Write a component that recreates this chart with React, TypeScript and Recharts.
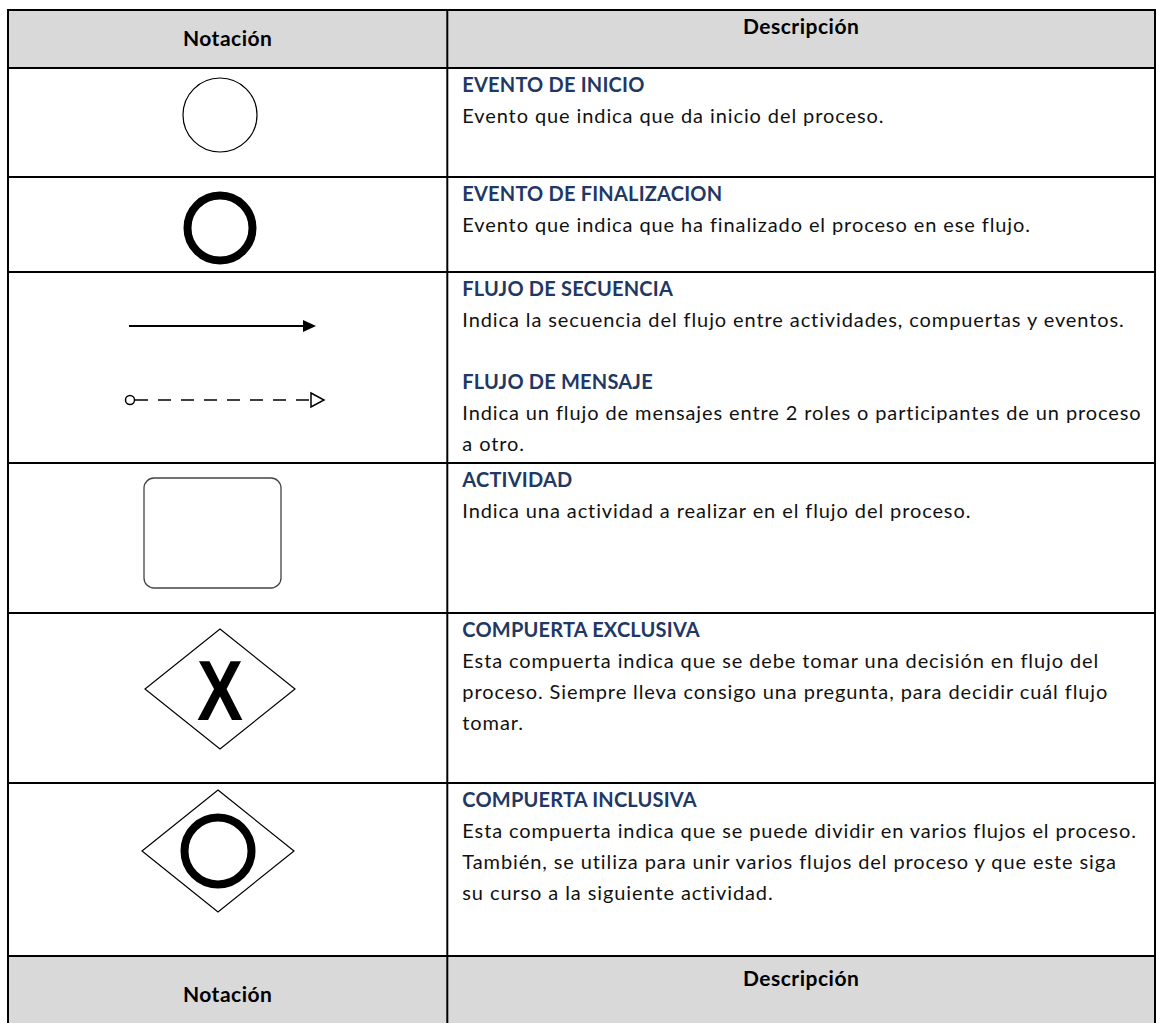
import { BarChart, Bar, XAxis, YAxis } from "recharts";

const headerLabels = ["Notación", "Descripción"];

const notationKinds = ["inicio", "fin", "flujos", "actividad", "exclusiva", "inclusiva"];

const entryTitles = [
  ["EVENTO DE INICIO"],
  ["EVENTO DE FINALIZACION"],
  ["FLUJO DE SECUENCIA", "FLUJO DE MENSAJE"],
  ["ACTIVIDAD"],
  ["COMPUERTA EXCLUSIVA"],
  ["COMPUERTA INCLUSIVA"],
];

const entryLines = [
  [["Evento que indica que da inicio del proceso."]],
  [["Evento que indica que ha finalizado el proceso en ese flujo."]],
  [
    ["Indica la secuencia del flujo entre actividades, compuertas y eventos."],
    ["Indica un flujo de mensajes entre 2 roles o participantes de un proceso", "a otro."],
  ],
  [["Indica una actividad a realizar en el flujo del proceso."]],
  [
    [
      "Esta compuerta indica que se debe tomar una decisión en flujo del",
      "proceso. Siempre lleva consigo una pregunta, para decidir cuál flujo",
      "tomar.",
    ],
  ],
  [
    [
      "Esta compuerta indica que se puede dividir en varios flujos el proceso.",
      "También, se utiliza para unir varios flujos del proceso y que este siga",
      "su curso a la siguiente actividad.",
    ],
  ],
];

// row heights: header, six notation rows, repeated header (cut off by the page)
const rowHeights = [58, 109, 95, 191, 150, 170, 173, 78];

const rowKinds = ["header", ...notationKinds, "header"];
const total = rowHeights.reduce((a, b) => a + b, 0);
const tableRow = Object.fromEntries(rowHeights.map((h, i) => [`r${i}`, h]));
const data = [{ name: "tabla", ...tableRow }];

const FONT = "Lato, 'Open Sans', sans-serif";
const NAVY = "#1F3864";
const notationShare = 0.383;

function Notation({ kind, gx, top, left }: { kind: string; gx: number; top: number; left: number }) {
  if (kind === "inicio") {
    return <circle cx={gx} cy={top + 47} r={37} fill="#fff" stroke="#000" strokeWidth={1.2} />;
  }
  if (kind === "fin") {
    return <circle cx={gx} cy={top + 51} r={32.5} fill="#fff" stroke="#000" strokeWidth={8} />;
  }
  if (kind === "flujos") {
    return (
      <g>
        <line x1={gx - 91} x2={gx + 85} y1={top + 54} y2={top + 54} stroke="#000" strokeWidth={2} />
        <polygon points={`${gx + 83},${top + 48} ${gx + 96},${top + 54} ${gx + 83},${top + 60}`} fill="#000" />
        <line x1={gx - 85} x2={gx + 91} y1={top + 128} y2={top + 128} stroke="#000" strokeWidth={1.5} strokeDasharray="13 10" />
        <circle cx={gx - 90} cy={top + 128} r={4.5} fill="#fff" stroke="#000" strokeWidth={1.5} />
        <polygon
          points={`${gx + 91},${top + 121} ${gx + 104},${top + 128} ${gx + 91},${top + 135}`}
          fill="#fff"
          stroke="#000"
          strokeWidth={1.5}
        />
      </g>
    );
  }
  if (kind === "actividad") {
    return <rect x={left + 136} y={top + 15} width={137} height={110} rx={10} fill="#fff" stroke="#444" strokeWidth={1.3} />;
  }
  if (kind === "exclusiva") {
    return (
      <g>
        <polygon
          points={`${gx},${top + 16} ${gx + 75},${top + 76} ${gx},${top + 136} ${gx - 75},${top + 76}`}
          fill="#fff"
          stroke="#000"
          strokeWidth={1.2}
        />
        <text
          x={gx}
          y={top + 107}
          textAnchor="middle"
          fontFamily="'Liberation Sans', Arial, sans-serif"
          fontWeight={700}
          fontSize={86}
          textLength={46}
          lengthAdjust="spacingAndGlyphs"
        >
          X
        </text>
      </g>
    );
  }
  // inclusiva
  return (
    <g>
      <polygon
        points={`${gx - 2},${top + 7} ${gx + 74},${top + 68} ${gx - 2},${top + 129} ${gx - 78},${top + 68}`}
        fill="#fff"
        stroke="#000"
        strokeWidth={1.2}
      />
      <circle cx={gx - 2} cy={top + 68} r={33.5} fill="none" stroke="#000" strokeWidth={8} />
    </g>
  );
}

function TableRow(props: any) {
  const { x, y, width, height, row } = props;
  const top = Math.min(y, y + height);
  const h = Math.abs(height);
  const right = x + width;
  const split = x + width * notationShare;
  const kind = rowKinds[row];

  const border = (
    <g stroke="#000" strokeWidth={2}>
      <line x1={x} x2={right} y1={top} y2={top} />
      <line x1={x} x2={x} y1={top - 1} y2={top + h} />
      <line x1={right} x2={right} y1={top - 1} y2={top + h} />
      <line x1={split} x2={split} y1={top} y2={top + h} />
    </g>
  );

  if (kind === "header") {
    return (
      <g>
        <rect x={x} y={top} width={width} height={h} fill="#D9D9D9" />
        {border}
        <text
          x={(x + split) / 2}
          y={top + h / 2 + 7}
          textAnchor="middle"
          fontFamily={FONT}
          fontWeight={700}
          fontSize={21}
          letterSpacing={0.5}
          fill="#000"
        >
          {headerLabels[0]}
        </text>
        <text
          x={(split + right) / 2}
          y={top + h * 0.29 + 7}
          textAnchor="middle"
          fontFamily={FONT}
          fontWeight={700}
          fontSize={21}
          letterSpacing={0.5}
          fill="#000"
        >
          {headerLabels[1]}
        </text>
      </g>
    );
  }

  const entry = row - 1;
  const texts: any[] = [];
  let k = 0;
  entryTitles[entry].forEach((title, t) => {
    if (t > 0) k += 1;
    texts.push(
      <text
        key={`t${t}`}
        x={split + 15}
        y={top + 17 + 31 * k + 7}
        fontFamily={FONT}
        fontWeight={700}
        fontSize={20}
        letterSpacing={0.2}
        fill={NAVY}
      >
        {title}
      </text>
    );
    k += 1;
    entryLines[entry][t].forEach((line, l) => {
      texts.push(
        <text
          key={`l${t}-${l}`}
          x={split + 15}
          y={top + 17 + 31 * k + 7}
          fontFamily={FONT}
          fontSize={20}
          letterSpacing={0.9}
          fill="#111"
        >
          {line}
        </text>
      );
      k += 1;
    });
  });

  return (
    <g>
      <rect x={x} y={top} width={width} height={h} fill="#fff" />
      {border}
      <Notation kind={kind} gx={x + 212} top={top} left={x} />
      {texts}
    </g>
  );
}

export default function App() {
  return (
    <div style={{ position: "absolute", left: 0, top: 0, width: 1157, height: 1023, overflow: "hidden", background: "#fff" }}>
      <BarChart
        width={1157}
        height={1034}
        data={data}
        margin={{ top: 10, right: 2, bottom: 0, left: 8 }}
        barCategoryGap={0}
        barGap={0}
      >
        <XAxis dataKey="name" hide />
        <YAxis type="number" hide reversed domain={[0, total]} />
        {rowHeights.map((_, i) => (
          <Bar
            key={i}
            dataKey={`r${i}`}
            stackId="tabla"
            isAnimationActive={false}
            shape={(p: any) => <TableRow {...p} row={i} />}
          />
        ))}
      </BarChart>
    </div>
  );
}
